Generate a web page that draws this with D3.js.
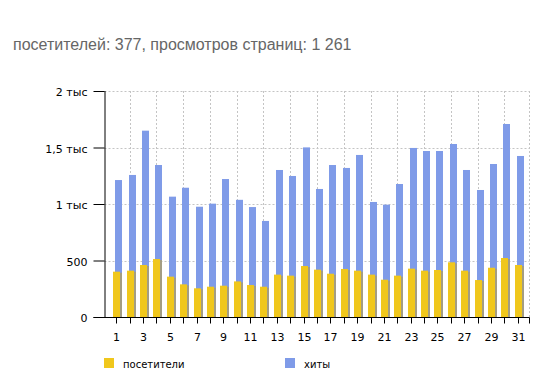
<!DOCTYPE html>
<html>
<head>
<meta charset="utf-8">
<script src="https://cdn.jsdelivr.net/npm/d3@7"></script>
<style>
  body { margin: 0; background: #fff; }
  .axis text { font-family: "DejaVu Sans", Verdana, sans-serif; font-size: 11px; fill: #000; }
</style>
</head>
<body>
<div id="chart"></div>
<script>
var days = d3.range(1, 32);
var visitors = [401, 410, 460, 513, 357, 289, 254, 268, 277, 315,
                283, 268, 375, 366, 451, 419, 383, 425, 410, 375,
                330, 366, 428, 410, 416, 484, 410, 327, 436, 522, 460];
var hits = [1212, 1257, 1649, 1345, 1065, 1144, 976, 1003, 1221, 1037,
            973, 850, 1301, 1248, 1501, 1133, 1345, 1319, 1434, 1018,
            994, 1177, 1496, 1469, 1469, 1531, 1301, 1124, 1354, 1708, 1425];
var yTicks = [0, 500, 1000, 1500, 2000];
var yTickLabels = ["0", "500", "1 тыс", "1,5 тыс", "2 тыс"];
var seriesNames = ["посетители", "хиты"];

var width = 548, height = 378;
var colorVisitors = "#f0c71c", colorHits = "#7f9be8";

var svg = d3.select("#chart").append("svg")
    .attr("width", width)
    .attr("height", height);

// Title
svg.append("text")
    .attr("x", 13)
    .attr("y", 50)
    .style("font-family", "'Liberation Sans', Arial, sans-serif")
    .style("font-size", "16px")
    .style("fill", "#666")
    .text("посетителей: 377, просмотров страниц: 1 261");

// Scales
var x = d3.scalePoint()
    .domain(days)
    .range([104.5, 529.5])
    .padding(0.88);
var y = d3.scaleLinear()
    .domain([0, 2000])
    .range([317, 91]);

var left = 104.5, right = 529.5;

// Grid
var grid = svg.append("g")
    .attr("stroke", "#c4c4c4")
    .attr("stroke-dasharray", "2,2");
grid.selectAll(".hgrid")
    .data(yTicks.slice(1))
    .enter().append("line")
    .attr("x1", left).attr("x2", right)
    .attr("y1", function(d) { return Math.round(y(d)) + 0.5; })
    .attr("y2", function(d) { return Math.round(y(d)) + 0.5; });
grid.selectAll(".vgrid")
    .data(days.filter(function(d) { return d % 2 == 0; }))
    .enter().append("line")
    .attr("x1", function(d) { return Math.round(x(d)) + 0.5; })
    .attr("x2", function(d) { return Math.round(x(d)) + 0.5; })
    .attr("y1", y(2000)).attr("y2", y(0));
grid.append("line")
    .attr("x1", right).attr("x2", right)
    .attr("y1", y(2000)).attr("y2", y(0));

// Hits bars (behind)
svg.selectAll(".hit")
    .data(hits)
    .enter().append("rect")
    .attr("x", function(d, i) { return Math.round(x(days[i])) - 1; })
    .attr("width", 7)
    .attr("y", function(d) { return y(d); })
    .attr("height", function(d) { return y(0) - y(d); })
    .attr("fill", colorHits);

// Visitors bars with shadow
svg.selectAll(".vis-shadow")
    .data(visitors)
    .enter().append("rect")
    .attr("x", function(d, i) { return Math.round(x(days[i])) + 4; })
    .attr("width", 2)
    .attr("y", function(d) { return y(d) + 1; })
    .attr("height", function(d) { return y(0) - y(d) - 1; })
    .attr("fill", "#a39d83");
svg.selectAll(".vis")
    .data(visitors)
    .enter().append("rect")
    .attr("x", function(d, i) { return Math.round(x(days[i])) - 3; })
    .attr("width", 7)
    .attr("y", function(d) { return y(d); })
    .attr("height", function(d) { return y(0) - y(d); })
    .attr("fill", colorVisitors);

// Y axis
var yAxis = svg.append("g")
    .attr("class", "axis")
    .attr("transform", "translate(" + left + ",0)")
    .call(d3.axisLeft(y)
        .tickValues(yTicks)
        .tickSize(11)
        .tickPadding(6)
        .tickFormat(function(d, i) { return yTickLabels[i]; }));
yAxis.select(".domain").attr("stroke", "#000").attr("d", "M0.5," + y(0) + "V" + y(2000));
yAxis.selectAll(".tick text").attr("dy", "0.45em");

// X axis
var xAxis = svg.append("g")
    .attr("class", "axis")
    .attr("transform", "translate(0," + (y(0) + 0.5) + ")")
    .call(d3.axisBottom(x)
        .tickSize(6)
        .tickPadding(10)
        .tickFormat(function(d) { return d % 2 == 1 ? d : ""; }));
xAxis.select(".domain").attr("d", "M" + (left - 11) + ",0H" + right + "V6");
xAxis.selectAll(".tick").attr("transform", function(d) {
    return "translate(" + (Math.round(x(d)) + 0.5) + ",0)";
});

// Legend
var legend = svg.selectAll(".legend")
    .data(seriesNames)
    .enter().append("g")
    .attr("transform", function(d, i) { return "translate(" + (104 + i * 181) + ",358)"; });
legend.append("rect")
    .attr("width", 10).attr("height", 10)
    .attr("fill", function(d, i) { return i == 0 ? colorVisitors : colorHits; });
legend.append("text")
    .attr("x", 19)
    .attr("y", 9.5)
    .style("font-family", "'DejaVu Sans', Verdana, sans-serif")
    .style("font-size", "10px")
    .text(function(d) { return d; });
</script>
</body>
</html>
